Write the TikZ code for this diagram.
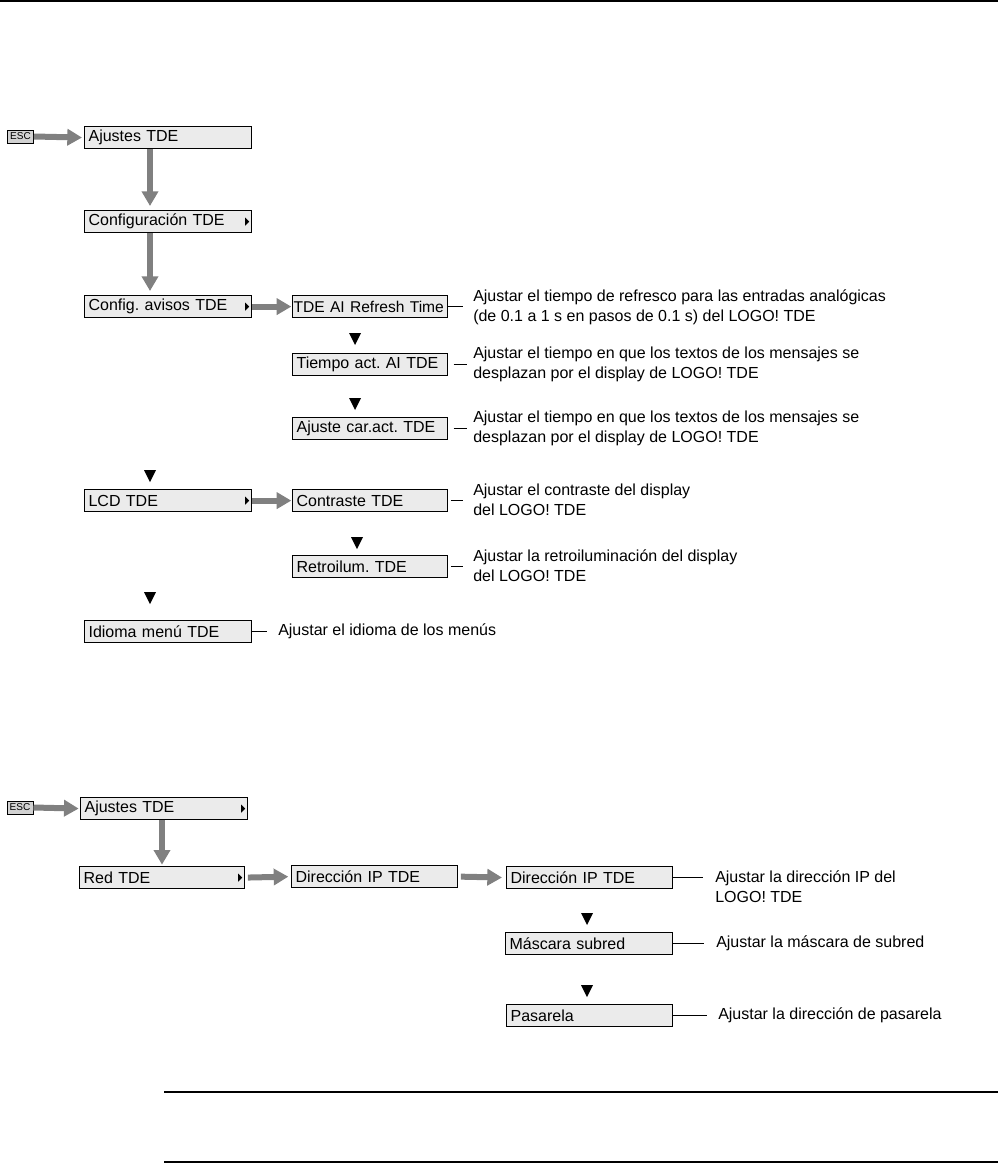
\documentclass[tikz,border=0pt]{standalone}
\usepackage{fontspec}
\setmainfont{Liberation Sans}
\usetikzlibrary{arrows.meta,calc}
\definecolor{boxfill}{HTML}{EBEBEB}
\definecolor{escfill}{HTML}{D2D2D2}
\definecolor{arrowgray}{HTML}{808080}
\newcommand\mainsize{\fontsize{12}{15}\selectfont}
\newcommand\dtri[2]{\fill (#1-6,#2-6) -- (#1+6,#2-6) -- (#1,#2+6) -- cycle;}
\newcommand\rtri[1]{\fill ($(#1.east)+(-7,-4)$) -- ($(#1.east)+(-3,0)$) -- ($(#1.east)+(-7,4)$) -- cycle;}
\begin{document}
\frenchspacing
\begin{tikzpicture}[x=0.75pt,y=-0.75pt,
  menubox/.style={draw=black, line width=0.9pt, fill=boxfill, anchor=north west,
    minimum height=16.5pt, inner xsep=3pt, inner ysep=0pt,
    text width=#1*0.75pt-6pt, align=left, font=\mainsize},
  escbox/.style={draw=black, line width=0.7pt, fill=escfill, minimum width=19.5pt,
    minimum height=9.75pt, inner sep=0pt, font=\fontsize{7.5}{8}\selectfont},
  desc/.style={anchor=west, align=left, inner sep=0pt, font=\mainsize},
  garrow/.style={draw=arrowgray, line width=4.5pt, -{Triangle[width=12pt,length=11pt,fill=arrowgray]}},
  link/.style={draw=black, line width=0.9pt}
]
\useasboundingbox (0,0) rectangle (998,1164);
% rules
\draw[line width=1.1pt] (0,1) -- (998,1);
\draw[line width=0.9pt] (164,1092) -- (998,1092);
\draw[line width=0.9pt] (164,1162) -- (998,1162);

% ---------- Part 1 ----------
\node[escbox] (esc1) at (20.5,136.5) {ESC};
\node[menubox=167] (b1) at (84,126) {Ajustes TDE};
\node[menubox=167] (b2) at (84,210) {Configuración TDE};
\node[menubox=167] (b3) at (84,295) {Config. avisos TDE};
\node[menubox=155, inner xsep=0.8pt, text width=114.65pt, font=\fontsize{11.7}{15}\selectfont] (c1) at (292,295) {\mbox{TDE AI Refresh Time}};
\node[menubox=155] (c2) at (292,353) {Tiempo act. AI TDE};
\node[menubox=155] (c3) at (292,417) {Ajuste car.act. TDE};
\node[menubox=167] (b4) at (84,489) {LCD TDE};
\node[menubox=155] (d1) at (292,489) {Contraste TDE};
\node[menubox=155] (d2) at (292,555) {Retroilum. TDE};
\node[menubox=167] (b5) at (84,620) {Idioma menú TDE};

\rtri{b2}
\rtri{b3}
\rtri{b4}

\draw[garrow, shorten >=1.5pt] (esc1.east) -- (b1.west);
\draw[garrow, shorten >=3pt] ($(b1.south west)+(66,0)$) -- ($(b2.north west)+(66,0)$);
\draw[garrow, shorten >=3pt] ($(b2.south west)+(66,0)$) -- ($(b3.north west)+(66,0)$);
\draw[garrow, shorten >=0.5pt] (b3.east) -- (c1.west);
\draw[garrow, shorten >=0.5pt] (b4.east) -- (d1.west);

\dtri{355}{339}
\dtri{355}{404}
\dtri{150}{476}
\dtri{357}{543}
\dtri{150}{598}

\node[desc] (t1) at (473,307) {Ajustar el tiempo de refresco para las entradas analógicas\\(de 0.1 a 1 s en pasos de 0.1 s) del LOGO! TDE};
\node[desc] (t2) at (473,364) {Ajustar el tiempo en que los textos de los mensajes se\\desplazan por el display de LOGO! TDE};
\node[desc] (t3) at (473,428) {Ajustar el tiempo en que los textos de los mensajes se\\desplazan por el display de LOGO! TDE};
\node[desc] (t4) at (473,500) {Ajustar el contraste del display\\del LOGO! TDE};
\node[desc] (t5) at (473,566) {Ajustar la retroiluminación del display\\del LOGO! TDE};
\node[desc] (t6) at (278,631) {Ajustar el idioma de los menús};

\draw[link, shorten <=0pt, shorten >=7.5pt] (c1.east) -- (c1.east -| t1.west);
\draw[link, shorten <=4pt, shorten >=4.5pt] (c2.east) -- (c2.east -| t2.west);
\draw[link, shorten <=4pt, shorten >=4.5pt] (c3.east) -- (c3.east -| t3.west);
\draw[link, shorten <=2pt, shorten >=7.5pt] (d1.east) -- (d1.east -| t4.west);
\draw[link, shorten <=2pt, shorten >=7.5pt] (d2.east) -- (d2.east -| t5.west);
\draw[link, shorten >=8pt] (b5.east) -- (b5.east -| t6.west);

% ---------- Part 2 ----------
\node[escbox] (esc2) at (20,807.5) {ESC};
\node[menubox=167] (f1) at (80,797) {Ajustes TDE};
\node[menubox=165] (f2) at (79,866) {Red TDE};
\node[menubox=166] (g1) at (291,865) {Dirección IP TDE};
\node[menubox=166] (h1) at (506,866) {Dirección IP TDE};
\node[menubox=167] (h2) at (505,932) {Máscara subred};
\node[menubox=166] (h3) at (506,1004) {Pasarela};

\rtri{f1}
\rtri{f2}

\draw[garrow, shorten >=1pt] (esc2.east) -- (f1.west);
\draw[garrow, shorten >=1pt] ($(f1.south west)+(82,0)$) -- ($(f2.north west)+(83,0)$);
\draw[garrow, shorten <=2pt, shorten >=2pt] (f2.east) -- (g1.west);
\draw[garrow, shorten <=2pt, shorten >=3pt] (g1.east) -- (h1.west);

\dtri{587}{919}
\dtri{587}{991}

\node[desc] (u1) at (715,887) {Ajustar la dirección IP del\\LOGO! TDE};
\node[desc] (u2) at (716,943) {Ajustar la máscara de subred};
\node[desc] (u3) at (718,1015) {Ajustar la dirección de pasarela};

\draw[link, shorten >=9pt] (h1.east) -- (h1.east -| u1.west);
\draw[link, shorten >=9pt] (h2.east) -- (h2.east -| u2.west);
\draw[link, shorten >=8pt] (h3.east) -- (h3.east -| u3.west);
\end{tikzpicture}
\end{document}
